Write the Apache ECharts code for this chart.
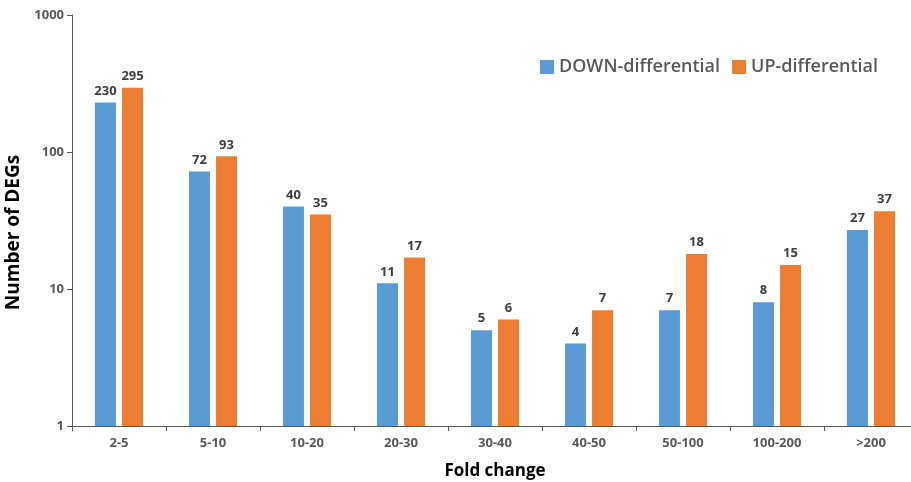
<!DOCTYPE html>
<html>
<head>
<meta charset="utf-8">
<script src="https://cdn.jsdelivr.net/npm/echarts@6/dist/echarts.min.js"></script>
<style>
  html, body { margin: 0; padding: 0; background: #fff; }
  #chart { width: 911px; height: 482px; }
</style>
</head>
<body>
<div id="chart"></div>
<script>
// Fold-change bins and DEG counts per direction
const categories = ['2-5', '5-10', '10-20', '20-30', '30-40', '40-50', '50-100', '100-200', '>200'];
const downValues = [230, 72, 40, 11, 5, 4, 7, 8, 27];
const upValues = [295, 93, 35, 17, 6, 7, 18, 15, 37];
const seriesNames = ['DOWN-differential', 'UP-differential'];

const FONT = '"Open Sans", "Liberation Sans", sans-serif';
const axisGray = '#595959';

const labelStyle = {
  show: true,
  position: 'top',
  distance: 5,
  color: '#404040',
  fontWeight: 'bold',
  fontSize: 13,
  fontFamily: FONT
};

const chart = echarts.init(document.getElementById('chart'));
chart.setOption({
  animation: false,
  backgroundColor: '#ffffff',
  textStyle: { fontFamily: FONT },
  grid: { left: 72, right: -7, top: 15, bottom: 56, outerBoundsMode: 'none', containLabel: false },
  legend: {
    data: seriesNames,
    left: 535,
    top: 53,
    itemWidth: 14,
    itemHeight: 14,
    itemGap: 12,
    icon: 'rect',
    textStyle: { color: axisGray, fontSize: 18, fontWeight: 600, fontFamily: FONT }
  },
  xAxis: {
    type: 'category',
    data: categories,
    name: 'Fold change',
    nameLocation: 'middle',
    nameGap: 37,
    nameTextStyle: { color: '#000', fontWeight: 'bold', fontSize: 17, fontFamily: FONT },
    axisLine: { lineStyle: { color: axisGray, width: 1 } },
    axisTick: { show: true, length: 5, inside: false, lineStyle: { color: axisGray } },
    axisLabel: { color: axisGray, fontWeight: 'bold', fontSize: 13, margin: 11, fontFamily: FONT }
  },
  yAxis: {
    type: 'log',
    logBase: 10,
    min: 1,
    max: 1000,
    name: 'Number of DEGs',
    nameLocation: 'middle',
    nameGap: 39,
    nameRotate: 90,
    nameTextStyle: {
      color: '#000', fontWeight: 'bold', fontSize: 19, fontFamily: FONT,
      padding: [0, 24, 0, 0]
    },
    axisLine: { show: true, lineStyle: { color: axisGray, width: 1 } },
    axisTick: { show: true, length: 5, inside: false, lineStyle: { color: axisGray } },
    minorTick: { show: false },
    splitLine: { show: false },
    axisLabel: {
      color: axisGray, fontWeight: 'bold', fontSize: 13, margin: 8, fontFamily: FONT,
      formatter: (v) => String(Math.round(v))
    }
  },
  series: [
    {
      name: seriesNames[0],
      type: 'bar',
      data: downValues,
      barWidth: 21,
      barGap: '29%',
      itemStyle: { color: '#5B9BD5' },
      label: labelStyle
    },
    {
      name: seriesNames[1],
      type: 'bar',
      data: upValues,
      barWidth: 21,
      barGap: '29%',
      itemStyle: { color: '#ED7D31' },
      label: labelStyle
    }
  ]
});
</script>
</body>
</html>
